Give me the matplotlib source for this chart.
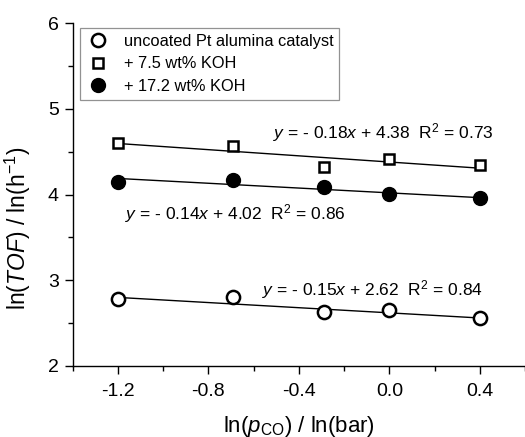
import matplotlib
matplotlib.use("Agg")
import matplotlib.pyplot as plt
from matplotlib.ticker import MultipleLocator

plt.rcParams["font.family"] = ["Liberation Sans", "DejaVu Sans"]
plt.rcParams["mathtext.fontset"] = "custom"
plt.rcParams["mathtext.rm"] = "Liberation Sans"
plt.rcParams["mathtext.it"] = "Liberation Sans:italic"

# ln(p_CO) for 0.3, 0.5, 0.75, 1.0, 1.5 bar
ln_p = [-1.2, -0.69, -0.29, 0.0, 0.4]

uncoated = [2.78, 2.80, 2.63, 2.65, 2.56]
koh_7_5 = [4.60, 4.57, 4.32, 4.42, 4.34]
koh_17_2 = [4.15, 4.17, 4.09, 4.01, 3.96]

# linear fits (slope, intercept, R^2) as reported
fit_uncoated = (-0.15, 2.62, 0.84)
fit_7_5 = (-0.18, 4.38, 0.73)
fit_17_2 = (-0.14, 4.02, 0.86)

labels = ["uncoated Pt alumina catalyst", "+ 7.5 wt% KOH", "+ 17.2 wt% KOH"]


def eq_text(fit):
    slope, icpt, r2 = fit
    return (r"$\mathit{y}$ = - %.2f$\mathit{x}$ + %.2f  R$^2$ = %.2f"
            % (abs(slope), icpt, r2))


fig = plt.figure(figsize=(5.25, 4.37), dpi=100)
ax = fig.add_axes([0.1386, 0.1625, 0.8614, 0.7845])

x_fit = [ln_p[0], ln_p[-1]]
for fit in (fit_uncoated, fit_7_5, fit_17_2):
    ax.plot(x_fit, [fit[0] * v + fit[1] for v in x_fit], color="black", lw=1.0, zorder=1)

ax.plot(ln_p, uncoated, "o", ms=9.5, mfc="white", mec="black", mew=1.8, ls="none",
        label=labels[0], zorder=3)
ax.plot(ln_p, koh_7_5, "s", ms=7.5, mfc="white", mec="black", mew=1.8, ls="none",
        label=labels[1], zorder=3)
ax.plot(ln_p, koh_17_2, "o", ms=10, mfc="black", mec="black", ls="none",
        label=labels[2], zorder=3)

ax.text(-0.515, 4.72, eq_text(fit_7_5), fontsize=12.5, va="center", ha="left")
ax.text(-1.169, 3.78, eq_text(fit_17_2), fontsize=12.5, va="center", ha="left")
ax.text(-0.564, 2.89, eq_text(fit_uncoated), fontsize=12.5, va="center", ha="left")

ax.set_xlim(-1.4, 0.6)
ax.set_ylim(2, 6)
ax.xaxis.set_major_locator(MultipleLocator(0.4))
ax.xaxis.set_minor_locator(MultipleLocator(0.2))
ax.yaxis.set_major_locator(MultipleLocator(1))
ax.yaxis.set_minor_locator(MultipleLocator(0.5))
ax.set_xticks([-1.2, -0.8, -0.4, 0.0, 0.4])
ax.set_xticklabels(["-1.2", "-0.8", "-0.4", "0.0", "0.4"])
ax.tick_params(which="major", direction="out", length=6, width=1.0, labelsize=14, pad=4)
ax.tick_params(axis="x", which="major", pad=6)
ax.tick_params(which="minor", direction="out", length=3.5, width=1.0)
ax.spines["top"].set_visible(False)
ax.spines["right"].set_visible(False)
for side in ("left", "bottom"):
    ax.spines[side].set_linewidth(1.0)

ax.set_xlabel(r"ln($\mathit{p}_{\rm CO}$) / ln(bar)", fontsize=16, labelpad=10)
ax.set_ylabel(r"ln($\mathit{TOF}$) / ln(h$^{-1}$)", fontsize=16.5)
ax.yaxis.set_label_coords(-0.088, 0.40)

leg = ax.legend(loc="upper left", bbox_to_anchor=(0.017, 0.985), borderaxespad=0,
                fontsize=11.8, frameon=True, fancybox=False, handletextpad=0.8,
                labelspacing=0.45, borderpad=0.35, handlelength=1.5)
leg.get_frame().set_edgecolor("#777777")
leg.get_frame().set_linewidth(0.9)

fig.savefig("out.png", dpi=100)
